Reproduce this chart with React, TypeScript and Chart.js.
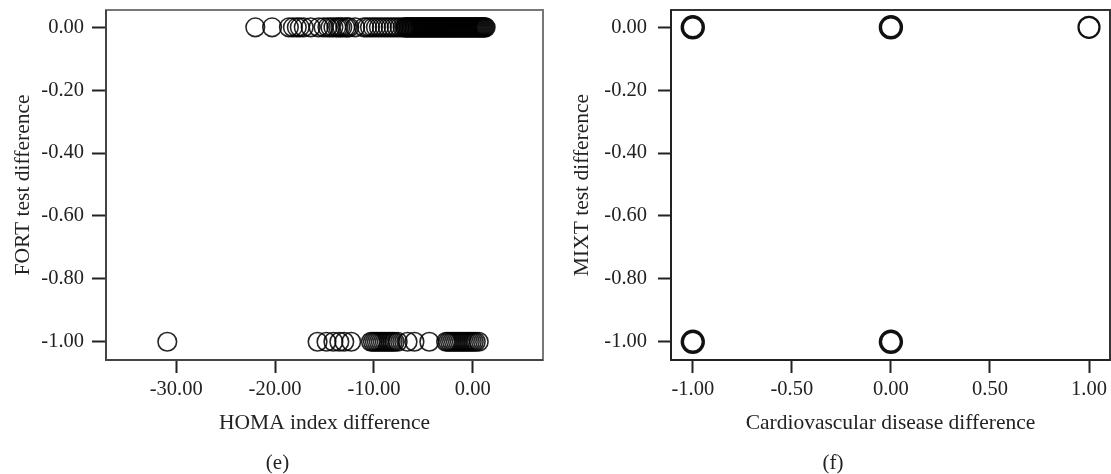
import React, { useEffect, useRef } from "react";
import { Chart, registerables } from "chart.js";
Chart.register(...registerables);

const FONT = "'Liberation Serif', 'Times New Roman', serif";

// ---- Panel (e): HOMA index difference vs FORT test difference ----
const E_X_TICKS = [-30, -20, -10, 0];
const E_Y_TICKS = [0, -0.2, -0.4, -0.6, -0.8, -1];
// HOMA differences of the points with FORT difference 0.00
const E_TOP_X = [
  -22.0, -20.3, -18.6, -18.2, -17.8, -17.5, -17.1, -16.4, -15.6, -15.1, -14.7, -14.4,
  -14.1, -13.8, -13.6, -13.4, -13.2, -12.9, -12.7, -12.5, -11.9, -11.0, -10.7, -10.4,
  -10.1, -9.8, -9.5, -9.2, -8.9, -8.6, -8.3, -8.0, -7.7, -7.4, -7.1,
  -6.9, -6.8, -6.7, -6.6, -6.5, -6.4, -6.3, -6.2, -6.1, -6.0, -5.9, -5.8, -5.7, -5.6,
  -5.5, -5.4, -5.3, -5.2, -5.1, -5.0, -4.9, -4.8, -4.7, -4.6, -4.5, -4.4, -4.3, -4.2,
  -4.1, -4.0, -3.9, -3.8, -3.7, -3.6, -3.5, -3.4, -3.3, -3.2, -3.1, -3.0, -2.9, -2.8,
  -2.7, -2.6, -2.5, -2.4, -2.3, -2.2, -2.1, -2.0, -1.9, -1.8, -1.7, -1.6, -1.5, -1.4,
  -1.3, -1.2, -1.1, -1.0, -0.9, -0.8, -0.7, -0.6, -0.5, -0.4, -0.3, -0.2, -0.1, 0.0,
  0.1, 0.2, 0.3, 0.4, 0.5, 0.6, 0.7, 0.8, 0.9, 1.0, 1.1, 1.2, 1.3,
];
// HOMA differences of the points with FORT difference -1.00
const E_BOTTOM_X = [
  -30.9, -15.7, -14.8, -14.1, -13.5, -13.0, -12.3, -10.3, -10.1, -9.9, -9.7, -9.5,
  -9.3, -9.1, -8.9, -8.7, -8.5, -8.3, -8.1, -7.9, -7.6, -6.6, -5.9, -4.4, -2.7, -2.5,
  -2.3, -2.1, -1.9, -1.7, -1.5, -1.3, -1.1, -0.9, -0.7, -0.5, -0.3, -0.1, 0.1, 0.3,
  0.6,
];

// ---- Panel (f): Cardiovascular disease difference vs MIXT test difference ----
const F_X_TICKS = [-1, -0.5, 0, 0.5, 1];
const F_Y_TICKS = [0, -0.2, -0.4, -0.6, -0.8, -1];
const F_X = [-1, 0, 1, -1, 0];
const F_Y = [0, 0, 0, -1, -1];
const F_REPEATED = [true, true, false, true, true];

const fmt = (v: any) => Number(v).toFixed(2);

const panelPlugin = {
  id: "panelFrame",
  beforeDatasetsDraw(chart: any, _a: any, opts: any) {
    const { ctx, chartArea } = chart;
    const { left, top, right, bottom } = chartArea;
    ctx.save();
    ctx.lineWidth = 2;
    ctx.strokeStyle = opts.sideColor;
    ctx.strokeRect(left, top, right - left, bottom - top);
    ctx.strokeStyle = opts.axisColor;
    ctx.beginPath();
    ctx.moveTo(left, top);
    ctx.lineTo(left, bottom);
    ctx.lineTo(right, bottom);
    ctx.stroke();
    ctx.restore();
  },
  afterDraw(chart: any, _a: any, opts: any) {
    const { ctx } = chart;
    ctx.save();
    ctx.font = `21px ${FONT}`;
    ctx.fillStyle = "#222";
    ctx.textAlign = "center";
    ctx.textBaseline = "middle";
    ctx.fillText(opts.caption, chart.width / 2, 463);
    ctx.restore();
  },
};

function makeScales(p: any) {
  return {
    x: {
      type: "linear",
      min: p.xMin,
      max: p.xMax,
      afterBuildTicks: (s: any) => {
        s.ticks = p.xTicks.map((v: number) => ({ value: v }));
      },
      afterFit: (s: any) => {
        s.height = p.xHeight;
        s.paddingLeft = 0;
        s.paddingRight = 0;
      },
      ticks: {
        callback: fmt,
        font: { family: FONT, size: 20.5 },
        color: "#222",
        padding: 4,
        maxRotation: 0,
        autoSkip: false,
      },
      grid: {
        drawOnChartArea: false,
        drawTicks: true,
        tickLength: 13,
        tickColor: "#222",
        tickWidth: 2,
      },
      border: { display: false },
      title: {
        display: true,
        text: p.xTitle,
        font: { family: FONT, size: 21.5 },
        color: "#222",
        padding: { top: 0, bottom: 38 },
      },
    },
    y: {
      type: "linear",
      min: p.yMin,
      max: p.yMax,
      afterBuildTicks: (s: any) => {
        s.ticks = p.yTicks.map((v: number) => ({ value: v }));
      },
      afterFit: (s: any) => {
        s.width = p.yWidth;
        s.paddingTop = 0;
        s.paddingBottom = 0;
      },
      ticks: {
        callback: fmt,
        font: { family: FONT, size: 20.5 },
        color: "#222",
        padding: p.yTickPad,
        autoSkip: false,
      },
      grid: {
        drawOnChartArea: false,
        drawTicks: true,
        tickLength: p.yTickLen,
        tickColor: "#222",
        tickWidth: 2,
      },
      border: { display: false },
      title: {
        display: true,
        text: p.yTitle,
        font: { family: FONT, size: 21.5 },
        color: "#222",
        padding: { top: p.yTitlePad, bottom: 0 },
      },
    },
  };
}

function PanelE() {
  const ref = useRef<HTMLCanvasElement>(null);
  useEffect(() => {
    const data = [
      ...E_TOP_X.map((x) => ({ x, y: 0 })),
      ...E_BOTTOM_X.map((x) => ({ x, y: -1 })),
    ];
    const chart = new Chart(ref.current!, {
      type: "scatter",
      data: {
        datasets: [
          {
            data,
            pointStyle: "circle",
            pointRadius: 9.3,
            pointBorderWidth: 1.6,
            borderColor: "rgba(0,0,0,0.85)",
            backgroundColor: "rgba(0,0,0,0)",
          },
        ],
      },
      options: {
        responsive: false,
        animation: false,
        devicePixelRatio: 1,
        layout: { autoPadding: false, padding: { top: 10, right: 12, left: 0, bottom: 0 } },
        plugins: {
          legend: { display: false },
          tooltip: { enabled: false },
          panelFrame: { caption: "(e)", sideColor: "#777", axisColor: "#444" },
        } as any,
        scales: makeScales({
          xMin: -37.1,
          xMax: 7.1,
          xTicks: E_X_TICKS,
          xHeight: 114,
          xTitle: "HOMA index difference",
          yMin: -1.058,
          yMax: 0.055,
          yTicks: E_Y_TICKS,
          yWidth: 106,
          yTickPad: 8,
          yTickLen: 14,
          yTitle: "FORT test difference",
          yTitlePad: 10,
        }) as any,
      },
      plugins: [panelPlugin],
    });
    return () => chart.destroy();
  }, []);
  return (
    <canvas
      ref={ref}
      width={555}
      height={474}
      style={{ position: "absolute", left: 0, top: 0, width: 555, height: 474 }}
    />
  );
}

function PanelF() {
  const ref = useRef<HTMLCanvasElement>(null);
  useEffect(() => {
    const data = F_X.map((x, i) => ({ x, y: F_Y[i], rep: F_REPEATED[i] }));
    const chart = new Chart(ref.current!, {
      type: "scatter",
      data: {
        datasets: [
          {
            data: data as any,
            pointStyle: "circle",
            pointRadius: 10.5,
            pointBorderWidth: (ctx: any) => (ctx.raw && ctx.raw.rep ? 3.4 : 2.2),
            borderColor: "#111",
            backgroundColor: "rgba(0,0,0,0)",
          } as any,
        ],
      },
      options: {
        responsive: false,
        animation: false,
        devicePixelRatio: 1,
        layout: { autoPadding: false, padding: { top: 10, right: 1, left: 0, bottom: 0 } },
        plugins: {
          legend: { display: false },
          tooltip: { enabled: false },
          panelFrame: { caption: "(f)", sideColor: "#333", axisColor: "#222" },
        } as any,
        scales: makeScales({
          xMin: -1.11,
          xMax: 1.106,
          xTicks: F_X_TICKS,
          xHeight: 114,
          xTitle: "Cardiovascular disease difference",
          yMin: -1.058,
          yMax: 0.055,
          yTicks: F_Y_TICKS,
          yWidth: 116,
          yTickPad: 11,
          yTickLen: 13,
          yTitle: "MIXT test difference",
          yTitlePad: 14,
        }) as any,
      },
      plugins: [panelPlugin],
    });
    return () => chart.destroy();
  }, []);
  return (
    <canvas
      ref={ref}
      width={556}
      height={474}
      style={{ position: "absolute", left: 555, top: 0, width: 556, height: 474 }}
    />
  );
}

export default function App() {
  return (
    <div
      style={{
        position: "fixed",
        left: 0,
        top: 0,
        width: 1111,
        height: 474,
        background: "#fff",
        overflow: "hidden",
      }}
    >
      <PanelE />
      <PanelF />
    </div>
  );
}
